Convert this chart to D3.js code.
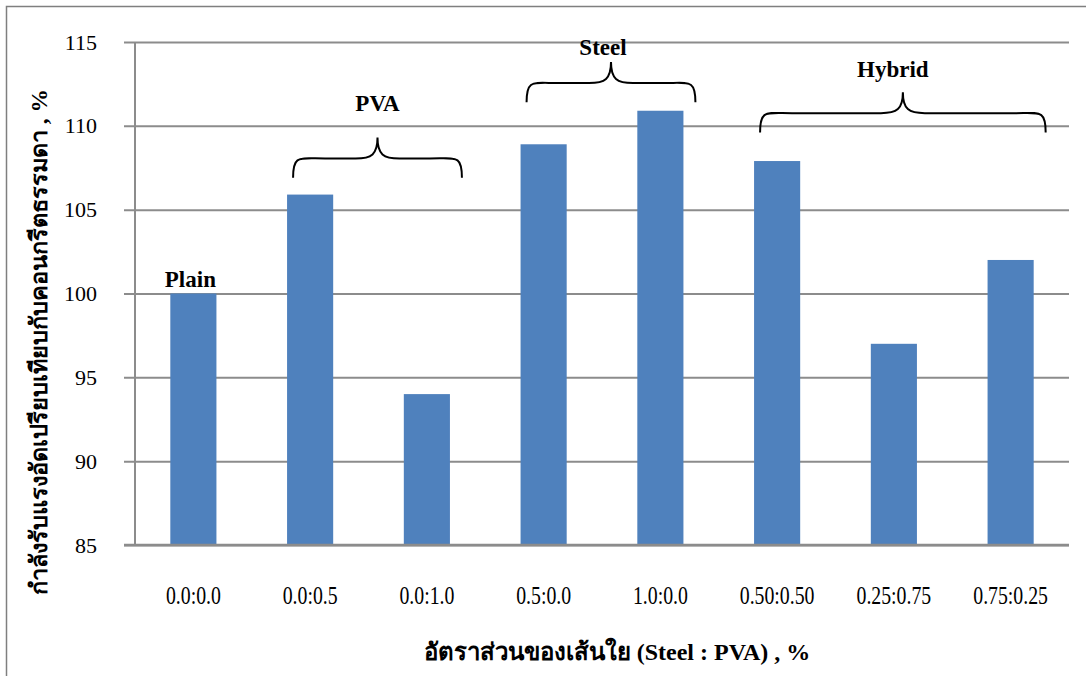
<!DOCTYPE html>
<html><head><meta charset="utf-8">
<script src="https://cdn.jsdelivr.net/npm/d3@7"></script>
<style>body{margin:0;background:#fff}svg{display:block}</style>
</head><body>
<svg id="c" width="1086" height="676"></svg>
<script>
const categories = ["0.0:0.0","0.0:0.5","0.0:1.0","0.5:0.0","1.0:0.0","0.50:0.50","0.25:0.75","0.75:0.25"];
const values = [100, 105.9, 94, 108.9, 110.9, 107.9, 97, 102];
const yTicks = [85, 90, 95, 100, 105, 110, 115];
const groupNames = ["PVA", "Steel", "Hybrid"];
const groupStart = [1, 3, 5];
const groupEnd = [2, 4, 7];
const groupBraceBase = [106.9, 111.4, 109.6];
const groupBraceTip = [109.3, 113.8, 112.0];
const groupLabelY = [110.9, 114.2, 112.9];
const plainLabel = "Plain";
const yTitle = "กำลังรับแรงอัดเปรียบเทียบกับคอนกรีตธรรมดา , %";
const xTitle = "อัตราส่วนของเส้นใย (Steel : PVA) , %";

const svg = d3.select("#c");
const L = 135, R = 1069, T = 42, B = 545;
const x = d3.scaleBand().domain(categories).range([L, R]).paddingInner(0.605).paddingOuter(0.3025);
const y = d3.scaleLinear().domain([85, 115]).range([B, T]);
const serif = "Liberation Serif, Times New Roman, serif";

// frame
svg.append("rect").attr("x", 6.5).attr("y", 6.5).attr("width", 1100).attr("height", 700)
  .attr("fill", "none").attr("stroke", "#7f7f7f").attr("stroke-width", 1.5);

// gridlines + y axis
const yAxis = d3.axisLeft(y).tickValues(yTicks).tickSize(R - L + 11).tickPadding(27);
const gy = svg.append("g").attr("transform", `translate(${R},0)`).call(yAxis)
  .attr("font-family", serif);
gy.select(".domain").remove();
gy.selectAll(".tick line").attr("stroke", "#8c8c8c").attr("stroke-width", 2).attr("x1", 0)
  .attr("x2", -(R - L + 11));
gy.selectAll(".tick text").attr("font-family", serif).attr("font-size", 22).attr("fill", "#000")
  .attr("x", -(R - 97)).attr("text-anchor", "end").attr("dy", "0.32em");

// vertical axis line
svg.append("line").attr("x1", L).attr("x2", L).attr("y1", T).attr("y2", B)
  .attr("stroke", "#8c8c8c").attr("stroke-width", 2);

// bars
svg.append("g").selectAll("rect").data(values).join("rect")
  .attr("x", (d, i) => x(categories[i]))
  .attr("width", x.bandwidth())
  .attr("y", d => y(d))
  .attr("height", d => y(85) - y(d))
  .attr("fill", "#4F81BD");

// x axis
const gx = svg.append("g").attr("transform", `translate(0,${B})`)
  .call(d3.axisBottom(x).tickSize(0).tickPadding(40)).attr("font-family", serif);
gx.select(".domain").attr("stroke", "#8c8c8c").attr("stroke-width", 2.5).attr("d", `M${L - 11},0H${R}`);
gx.selectAll(".tick text").attr("font-family", serif).attr("font-size", 22).attr("fill", "#000")
  .attr("transform", "scale(0.9,1.15)").attr("dy", "0.5em");

// Plain label
svg.append("text").attr("x", x(categories[0]) + x.bandwidth() / 2 - 3).attr("y", y(100.4))
  .attr("text-anchor", "middle").attr("font-family", serif).attr("font-weight", "bold")
  .attr("font-size", 23).text(plainLabel);

// braces
function bracePath(x0, x1, yb, yt) {
  const xm = (x0 + x1) / 2;
  const yh = yb - (yb - yt) * 0.48;
  const r = 22;
  return `M${x0},${yb} C${x0},${yh - 4} ${x0 + 6},${yh} ${x0 + r + 10},${yh} L${xm - r},${yh} C${xm - 6},${yh} ${xm},${yh - 4} ${xm},${yt}` +
         ` M${xm},${yt} C${xm},${yh - 4} ${xm + 6},${yh} ${xm + r},${yh} L${x1 - r - 10},${yh} C${x1 - 6},${yh} ${x1},${yh - 4} ${x1},${yb}`;
}
groupNames.forEach((g, i) => {
  const x0 = x(categories[groupStart[i]]) + 6;
  const x1 = x(categories[groupEnd[i]]) + x.bandwidth() + 12;
  svg.append("path").attr("d", bracePath(x0, x1, y(groupBraceBase[i]), y(groupBraceTip[i])))
    .attr("fill", "none").attr("stroke", "#000").attr("stroke-width", 2);
  svg.append("text").attr("x", (x0 + x1) / 2 - (i === 2 ? 10 : (i === 1 ? 8 : 0))).attr("y", y(groupLabelY[i]))
    .attr("text-anchor", "middle").attr("font-family", serif).attr("font-weight", "bold")
    .attr("font-size", 23).text(g);
});

// axis titles
svg.append("text").attr("transform", "translate(47,342) rotate(-90)")
  .attr("text-anchor", "middle").attr("font-family", serif).attr("font-weight", "bold")
  .attr("font-size", 23.5).text(yTitle);
svg.append("text").attr("x", 617).attr("y", 660)
  .attr("text-anchor", "middle").attr("font-family", serif).attr("font-weight", "bold")
  .attr("font-size", 24).text(xTitle);
</script>
</body></html>
